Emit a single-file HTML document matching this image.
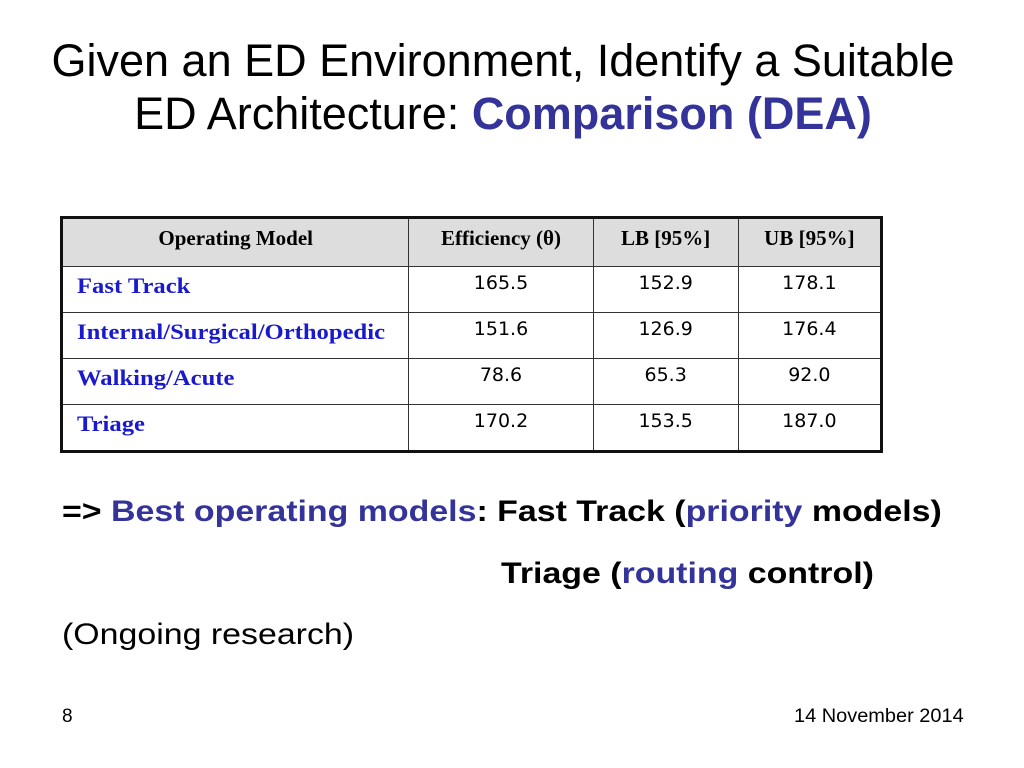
<!DOCTYPE html>
<html><head><meta charset="utf-8"><style>
body{margin:0;width:1024px;height:768px;background:#fff;position:relative;overflow:hidden;font-family:"Liberation Sans",sans-serif}
.t{position:absolute;white-space:nowrap;transform-origin:left top}
h1{position:absolute;left:0;top:34px;width:1006px;margin:0;text-align:center;font-weight:normal;font-size:45px;line-height:53px;color:#000}
.b{color:#333399;font-weight:bold}
table{position:absolute;left:60px;top:216px;width:823px;height:235px;border-collapse:collapse;border:3px solid #111;font-family:"Liberation Serif",serif;font-size:21px}
td{border:1px solid #333;padding:0 14px;vertical-align:top;padding-top:6px}
tr.h td{background:#ddd;font-weight:bold;text-align:center;padding-top:7px}
td.n{color:#1a1acc;font-weight:bold;font-size:22px}
td.n span{display:inline-block;transform:scaleX(1.12);transform-origin:left}
td.v{text-align:center;font-family:"DejaVu Sans",sans-serif;font-size:19px;padding-top:5px}
.p{font-size:30px;font-weight:bold;transform:scaleX(1.13)}
</style></head><body>
<h1>Given an ED Environment, Identify a Suitable<br>ED Architecture: <span class="b">Comparison (DEA)</span></h1>
<table>
<colgroup><col style="width:348px"><col style="width:185px"><col style="width:146px"><col style="width:144px"></colgroup>
<tr class="h" style="height:49px"><td>Operating Model</td><td>Efficiency (θ)</td><td>LB [95%]</td><td>UB [95%]</td></tr>
<tr style="height:46px"><td class="n"><span>Fast Track</span></td><td class="v">165.5</td><td class="v">152.9</td><td class="v">178.1</td></tr>
<tr style="height:46px"><td class="n"><span>Internal/Surgical/Orthopedic</span></td><td class="v">151.6</td><td class="v">126.9</td><td class="v">176.4</td></tr>
<tr style="height:46px"><td class="n"><span>Walking/Acute</span></td><td class="v">78.6</td><td class="v">65.3</td><td class="v">92.0</td></tr>
<tr style="height:47px"><td class="n"><span>Triage</span></td><td class="v">170.2</td><td class="v">153.5</td><td class="v">187.0</td></tr>
</table>
<div class="t p" style="left:62px;top:495px">=&gt; <span class="b">Best operating models</span>: Fast Track (<span class="b">priority</span> models)</div>
<div class="t p" style="left:501px;top:557px">Triage (<span class="b">routing</span> control)</div>
<div class="t" style="left:62px;top:618px;font-size:30px;transform:scaleX(1.13)">(Ongoing research)</div>
<div class="t" style="left:62px;top:706px;font-size:19px">8</div>
<div class="t" style="left:794px;top:706px;font-size:19px;transform:scaleX(1.05)">14 November 2014</div>
</body></html>
